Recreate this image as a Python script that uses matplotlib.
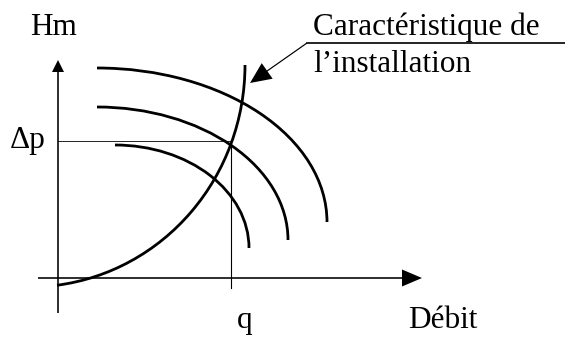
import matplotlib.pyplot as plt
from matplotlib.patches import Arc

plt.rcParams['font.family'] = ['Liberation Serif', 'DejaVu Serif']

# pump curves (quarter ellipses): centre, half width, half height
pump_cx = [39, 39, 57]
pump_cy = [56, 38, 30]
pump_a = [230, 191, 134]
pump_b = [154, 133, 103]

# installation curve (ellipse arc)
sys_cx, sys_cy = -28, 213
sys_a, sys_b = 215, 222
sys_theta = (277, 360)

# operating point
q_val = 173
dp_val = 137

labels = {"y": "Hm", "x": "Débit", "q": "q", "dp": "\u0394p"}
note_lines = ["Caractéristique de", "l\u2019installation"]

# one data unit = one pixel
fig = plt.figure(figsize=(5.65, 3.37), dpi=100)
ax = fig.add_axes([0, 0, 1, 1])
ax.set_xlim(-58, 507)
ax.set_ylim(-59, 278)
ax.set_aspect('equal')
ax.axis('off')

# axes with arrows
ax.arrow(0, -35, 0, 253, width=1.6, head_width=12, head_length=12,
         length_includes_head=True, color='black', lw=0)
ax.arrow(-20, 0, 384, 0, width=1.6, head_width=17, head_length=20,
         length_includes_head=True, color='black', lw=0)

# operating point guides
ax.plot([0, q_val], [dp_val, dp_val], color='black', lw=0.6)
ax.plot([q_val, q_val], [dp_val, -10], color='black', lw=0.8)

# pump curves
for cx, cy, a, b in zip(pump_cx, pump_cy, pump_a, pump_b):
    ax.add_patch(Arc((cx, cy), 2 * a, 2 * b, theta1=0, theta2=90,
                     color='black', lw=2.0))

# installation curve
ax.add_patch(Arc((sys_cx, sys_cy), 2 * sys_a, 2 * sys_b,
                 theta1=sys_theta[0], theta2=sys_theta[1], color='black', lw=2.0))

# leader and underline
ax.plot([249, 507], [235, 235], color='black', lw=1.2)
ax.arrow(249, 235, -57, -40, width=1.2, head_width=19, head_length=21,
         length_includes_head=True, color='black', lw=0)

# texts
fs = 22.5
ax.text(-28, 243, labels["y"], fontsize=fs, ha='left', va='baseline')
ax.text(-48, 130, labels["dp"], fontsize=fs, ha='left', va='baseline')
ax.text(q_val + 6, -50, labels["q"], fontsize=fs, ha='left', va='baseline')
ax.text(350, -50, labels["x"], fontsize=fs, ha='left', va='baseline')
ax.text(255, 243, note_lines[0], fontsize=fs, ha='left', va='baseline')
ax.text(255, 206, note_lines[1], fontsize=fs, ha='left', va='baseline')

fig.savefig('out.png', dpi=100)
